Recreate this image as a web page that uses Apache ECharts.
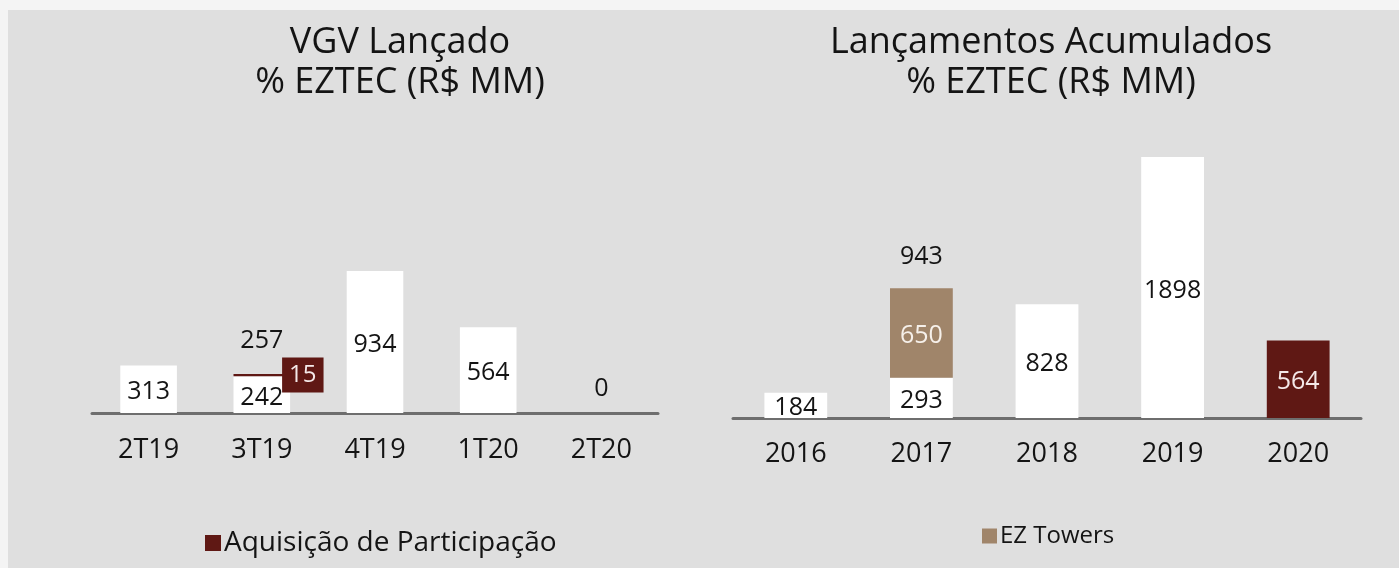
<!DOCTYPE html>
<html>
<head>
<meta charset="utf-8">
<script src="https://cdn.jsdelivr.net/npm/echarts@6/dist/echarts.min.js"></script>
<style>
	html, body { margin: 0; padding: 0; background: #f4f4f4; }
	.panel { position: absolute; left: 8px; top: 10px; right: 0; bottom: 0; background: #dfdfdf; }
	#chart { position: absolute; left: 0; top: 0; width: 1399px; height: 568px; }
</style>
</head>
<body>
<div class="panel"></div>
<div id="chart"></div>
<script>
// VGV Lançado (left)
const quarters = ['2T19', '3T19', '4T19', '1T20', '2T20'];
const vgvBase = [313, 242, 934, 564, 0];
const vgvAquisicao = [null, 15, null, null, null];

// Lançamentos Acumulados (right)
const years = ['2016', '2017', '2018', '2019', '2020'];
const lancBase = [184, 293, 828, 1898, 564];
const lancEzTowers = [null, 650, null, null, null];

window.onload = function() {
	let darkRed = '#5f1814';
	let tan = '#a0856a';
	let ink = '#141414';
	let chart = echarts.init(document.getElementById('chart'));

	// totals shown above the stacked columns
	let vgvTotal = vgvBase.map(function(v, i) { return vgvAquisicao[i] == null ? null : v + vgvAquisicao[i]; });
	let lancTotal = lancBase.map(function(v, i) { return lancEzTowers[i] == null ? null : v + lancEzTowers[i]; });

	let catAxis = function(data, grid, margin) {
		return {
			type: 'category',
			gridIndex: grid,
			data: data,
			axisLine: { lineStyle: { color: '#6e6e6e', width: 3 } },
			axisTick: { show: false },
			axisLabel: { fontSize: 27, color: ink, margin: margin }
		};
	};
	let valAxis = function(grid, max) {
		return { type: 'value', gridIndex: grid, min: 0, max: max, show: false, splitLine: { show: false } };
	};

	let option = {
		animation: false,
		textStyle: { fontFamily: 'Open Sans' },
		title: [{
			text: 'VGV Lançado\n% EZTEC (R$ MM)',
			left: 395, top: 18, textAlign: 'center',
			textStyle: { fontSize: 36, fontWeight: 'normal', color: ink, lineHeight: 40 }
		}, {
			text: 'Lançamentos Acumulados\n% EZTEC (R$ MM)',
			left: 1046, top: 18, textAlign: 'center',
			textStyle: { fontSize: 36, fontWeight: 'normal', color: ink, lineHeight: 40 }
		}],
		legend: [{
			data: ['Aquisição de Participação'],
			left: 200, top: 524,
			icon: 'rect', itemWidth: 16, itemHeight: 16, itemGap: 6,
			textStyle: { fontSize: 28, color: ink, padding: [0, 0, 0, -2] }
		}, {
			data: ['EZ Towers'],
			left: 977, top: 519,
			icon: 'rect', itemWidth: 15, itemHeight: 15,
			textStyle: { fontSize: 24, color: ink, padding: [0, 0, 0, -2] }
		}],
		grid: [
			{ left: 92, right: 741, top: 261, bottom: 155 },
			{ left: 733, right: 38, top: 143, bottom: 150 }
		],
		xAxis: [catAxis(quarters, 0, 24), catAxis(years, 1, 23)],
		yAxis: [valAxis(0, 1000), valAxis(1, 2000)],
		series: [{
			name: 'VGV',
			type: 'bar',
			stack: 'vgv',
			xAxisIndex: 0, yAxisIndex: 0,
			barWidth: '50%',
			itemStyle: { color: '#ffffff' },
			label: { show: true, position: 'inside', offset: [0, 3], fontSize: 25, color: ink },
			data: vgvBase.map(function(v) {
				return v === 0 ? { value: v, label: { position: 'top', distance: 12, offset: [0, 0] } } : v;
			})
		}, {
			name: 'Aquisição de Participação',
			type: 'bar',
			stack: 'vgv',
			xAxisIndex: 0, yAxisIndex: 0,
			itemStyle: { color: darkRed },
			label: {
				show: true, position: 'right', distance: -8,
				fontSize: 24, color: '#f4e8e8',
				backgroundColor: darkRed, padding: [6, 7, 5, 7]
			},
			data: vgvAquisicao
		}, {
			name: 'VGV total',
			type: 'bar',
			stack: 'vgv',
			xAxisIndex: 0, yAxisIndex: 0,
			itemStyle: { color: 'transparent' },
			label: {
				show: true, position: 'top', distance: 21, fontSize: 25, color: ink,
				formatter: function(p) { return vgvTotal[p.dataIndex]; }
			},
			data: vgvTotal.map(function(v) { return v == null ? null : 0; })
		}, {
			name: 'Lançamentos',
			type: 'bar',
			stack: 'lanc',
			xAxisIndex: 1, yAxisIndex: 1,
			barWidth: '50%',
			itemStyle: { color: '#ffffff' },
			label: { show: true, position: 'inside', offset: [0, 3], fontSize: 25, color: ink },
			data: lancBase.map(function(v, i) {
				// 2020 column in dark red
				return i === lancBase.length - 1 ? { value: v, itemStyle: { color: darkRed }, label: { color: '#f4e8e8' } } : v;
			})
		}, {
			name: 'EZ Towers',
			type: 'bar',
			stack: 'lanc',
			xAxisIndex: 1, yAxisIndex: 1,
			itemStyle: { color: tan },
			label: { show: true, position: 'inside', offset: [0, 3], fontSize: 25, color: '#f6f0ea' },
			data: lancEzTowers
		}, {
			name: 'Lançamentos total',
			type: 'bar',
			stack: 'lanc',
			xAxisIndex: 1, yAxisIndex: 1,
			itemStyle: { color: 'transparent' },
			label: {
				show: true, position: 'top', distance: 19, fontSize: 25, color: ink,
				formatter: function(p) { return lancTotal[p.dataIndex]; }
			},
			data: lancTotal.map(function(v) { return v == null ? null : 0; })
		}]
	};
	chart.setOption(option);
};
</script>
</body>
</html>
